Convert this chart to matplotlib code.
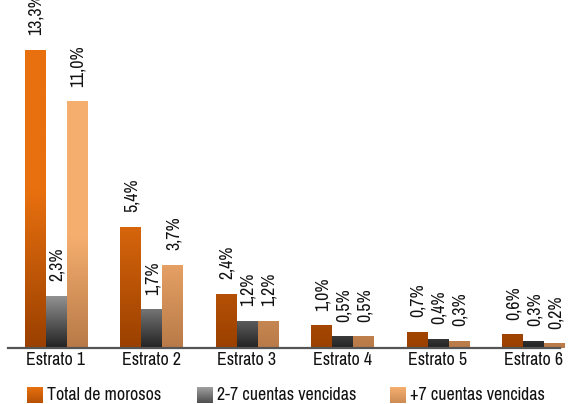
import numpy as np
import matplotlib
matplotlib.use("Agg")
import matplotlib.pyplot as plt
from matplotlib.colors import to_rgb

plt.rcParams['font.family'] = ['Pragati Narrow', 'Roboto Condensed', 'DejaVu Sans']

estratos = ["Estrato 1", "Estrato 2", "Estrato 3", "Estrato 4", "Estrato 5", "Estrato 6"]
total_morosos = [13.3, 5.4, 2.4, 1.0, 0.7, 0.6]
cuentas_2_7 = [2.3, 1.7, 1.2, 0.5, 0.4, 0.3]
cuentas_mas_7 = [11.0, 3.7, 1.2, 0.5, 0.3, 0.2]
series_names = ["Total de morosos", "2-7 cuentas vencidas", "+7 cuentas vencidas"]

# (top colour, bottom colour, height in data units over which the fade happens)
styles = [("#E8700F", "#9A4000", 7.0),
          ("#A0A0A0", "#222222", 2.6),
          ("#F5AE6E", "#B87A48", 5.0)]


def grad_img(top, bottom, y0, y1, fade, n=100):
    ys = np.linspace(y1, y0, n)
    t = np.clip(ys / fade, 0, 1)[:, None]
    c0 = np.array(to_rgb(bottom))
    c1 = np.array(to_rgb(top))
    img = c0 + (c1 - c0) * t
    return img[:, None, :]


fig = plt.figure(figsize=(5.71, 4.04), dpi=100)
ax = fig.add_axes([0, 56 / 404, 1, 348 / 404])

step = 95.5
x = np.arange(len(estratos))
w = 0.215
offs = [-0.22, 0.0, 0.22]
data = [total_morosos, cuentas_2_7, cuentas_mas_7]

for vals, off, (top, bot, fade) in zip(data, offs, styles):
    for xi, v in zip(x, vals):
        x0 = xi + off - w / 2
        ax.imshow(grad_img(top, bot, 0, v, fade), extent=[x0, x0 + w, 0, v],
                  aspect='auto', interpolation='bilinear', zorder=2)
        ax.annotate(("%.1f%%" % v).replace(".", ","), (xi + off, v),
                    xytext=(1, 15), textcoords='offset pixels',
                    rotation=90, ha='center', va='bottom', fontsize=14,
                    color='#111111')

ax.set_xlim(-56 / step, (571 - 56) / step)
ax.set_ylim(0, 348 / 22.4)
for s in ['top', 'right', 'left']:
    ax.spines[s].set_visible(False)
ax.spines['bottom'].set_color('#555555')
ax.spines['bottom'].set_linewidth(1.6)
ax.spines['bottom'].set_bounds(-0.503, 5.28)
ax.set_yticks([])
ax.set_xticks(x)
ax.set_xticklabels(estratos, fontsize=14, color='#111111')
ax.tick_params(axis='x', length=0, pad=3)

fig.text(0.512, 1 + 6 / 404, "(Agosto),", fontsize=12, fontweight='bold',
         ha='center', va='baseline', family='DejaVu Sans')

# legend with gradient swatches
leg_x = [27, 197, 390]
for lx, name, (top, bot, fade) in zip(leg_x, series_names, styles):
    sw = fig.add_axes([lx / 571, 1 / 404, 16 / 571, 16 / 404])
    c0 = np.array(to_rgb(bot))
    c1 = np.array(to_rgb(top))
    t = np.linspace(1, 0.35, 50)[:, None]
    sw.imshow((c0 + (c1 - c0) * t)[:, None, :], aspect='auto')
    sw.axis('off')
    fig.text((lx + 20) / 571, 9 / 404, name, fontsize=14, va='center',
             ha='left', color='#111111')

fig.savefig("out.png", dpi=100)
